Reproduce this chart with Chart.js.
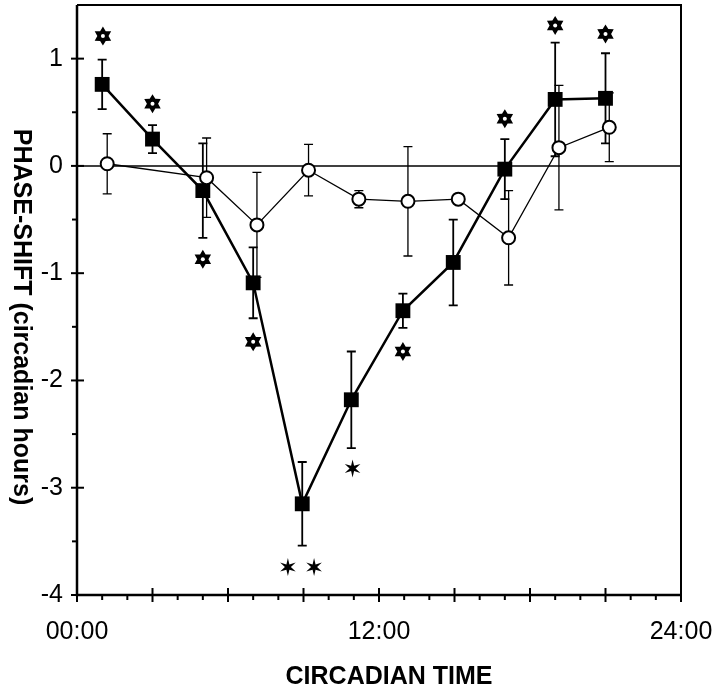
<!DOCTYPE html>
<html>
<head>
<meta charset="utf-8">
<script src="https://cdn.jsdelivr.net/npm/chart.js@4.4.1/dist/chart.umd.min.js"></script>
<style>
  html, body { margin: 0; padding: 0; background: #fff; }
  #wrap { width: 720px; height: 692px; }
</style>
</head>
<body>
<div id="wrap"><canvas id="phaseChart" width="720" height="692"></canvas></div>
<script>
// Dados (CT em horas, deslocamento de fase em horas circadianas)
const squareX   = [1.0, 3.0, 5.0, 7.0, 8.95, 10.9, 12.95, 14.95, 17.0, 19.0, 21.0];
const squareY   = [0.76, 0.25, -0.23, -1.09, -3.15, -2.18, -1.35, -0.90, -0.03, 0.62, 0.63];
const squareErr = [0.23, 0.13, 0.44, 0.33, 0.39, 0.45, 0.16, 0.40, 0.28, 0.53, 0.42];

const circleX   = [1.2, 5.15, 7.15, 9.2, 11.2, 13.15, 15.15, 17.15, 19.15, 21.15];
const circleY   = [0.02, -0.11, -0.55, -0.04, -0.31, -0.33, -0.31, -0.67, 0.17, 0.36];
const circleErr = [0.28, 0.37, 0.49, 0.24, 0.08, 0.51, 0.03, 0.44, 0.58, 0.32];

// marcadores de significância
const openStarX   = [1.03, 3.0, 5.0, 7.0, 12.95, 17.0, 19.0, 21.0];
const openStarY   = [1.21, 0.58, -0.87, -1.64, -1.73, 0.44, 1.31, 1.23];
const filledStarX = [8.38, 9.42, 10.95];
const filledStarY = [-3.74, -3.74, -2.82];

// rótulos dos eixos
const xTickLabels = { 0: '00:00', 12: '12:00', 24: '24:00' };
const yTitle = 'PHASE-SHIFT (circadian hours)';
const xTitle = 'CIRCADIAN TIME';

const FONT = "'Liberation Sans', Arial, sans-serif";

// Barras de erro e linha do zero (desenhadas sob os marcadores)
const errorBarsPlugin = {
    id: 'errorBars',
    beforeDatasetsDraw(chart) {
        const { ctx, scales: { x, y }, chartArea } = chart;
        ctx.save();
        ctx.strokeStyle = '#000';

        // linha do zero
        ctx.lineWidth = 1.5;
        const y0 = y.getPixelForValue(0);
        ctx.beginPath();
        ctx.moveTo(chartArea.left, y0);
        ctx.lineTo(chartArea.right, y0);
        ctx.stroke();

        const drawBars = (xs, ys, errs, width) => {
            ctx.lineWidth = width;
            xs.forEach((xv, i) => {
                const px = x.getPixelForValue(xv);
                const top = y.getPixelForValue(ys[i] + errs[i]);
                const bot = y.getPixelForValue(ys[i] - errs[i]);
                ctx.beginPath();
                ctx.moveTo(px, top);
                ctx.lineTo(px, bot);
                ctx.moveTo(px - 4.5, top);
                ctx.lineTo(px + 4.5, top);
                ctx.moveTo(px - 4.5, bot);
                ctx.lineTo(px + 4.5, bot);
                ctx.stroke();
            });
        };
        drawBars(squareX, squareY, squareErr, 1.8);
        drawBars(circleX, circleY, circleErr, 1.3);
        ctx.restore();
    }
};

// Estrelas de significância
function drawStar(ctx, cx, cy, outer, inner) {
    ctx.beginPath();
    for (let k = 0; k < 12; k++) {
        const r = k % 2 === 0 ? outer : inner;
        const a = -Math.PI / 2 + k * Math.PI / 6;
        const px = cx + r * Math.cos(a);
        const py = cy + r * Math.sin(a);
        if (k === 0) ctx.moveTo(px, py); else ctx.lineTo(px, py);
    }
    ctx.closePath();
    ctx.fill();
}

const starsPlugin = {
    id: 'stars',
    afterDatasetsDraw(chart) {
        const { ctx, scales: { x, y } } = chart;
        ctx.save();
        openStarX.forEach((xv, i) => {
            const px = x.getPixelForValue(xv);
            const py = y.getPixelForValue(openStarY[i]);
            ctx.fillStyle = '#000';
            drawStar(ctx, px, py, 9.5, 5.6);
            ctx.fillStyle = '#fff';
            ctx.beginPath();
            ctx.arc(px, py, 2, 0, Math.PI * 2);
            ctx.fill();
        });
        ctx.fillStyle = '#000';
        filledStarX.forEach((xv, i) => {
            const px = x.getPixelForValue(xv);
            const py = y.getPixelForValue(filledStarY[i]);
            drawStar(ctx, px, py, 9, 3);
        });
        ctx.restore();
    }
};

// Moldura, marcas dos eixos e títulos
const framePlugin = {
    id: 'frame',
    afterDraw(chart) {
        const { ctx, scales: { x, y }, chartArea: a } = chart;
        ctx.save();
        ctx.strokeStyle = '#000';

        ctx.lineWidth = 2;
        ctx.beginPath();
        ctx.moveTo(a.left, a.top);
        ctx.lineTo(a.right, a.top);
        ctx.lineTo(a.right, a.bottom);
        ctx.stroke();

        ctx.lineWidth = 2.5;
        ctx.beginPath();
        ctx.moveTo(a.left, a.top);
        ctx.lineTo(a.left, a.bottom);
        ctx.lineTo(a.right, a.bottom);
        ctx.stroke();

        // marcas do eixo y
        ctx.lineWidth = 2;
        y.ticks.forEach(t => {
            const py = y.getPixelForValue(t.value);
            const major = Number.isInteger(t.value);
            if (t.value > 1.01) return;
            ctx.beginPath();
            ctx.moveTo(a.left - (major ? 6 : 5), py);
            ctx.lineTo(a.left + (major ? 7 : 0), py);
            ctx.stroke();
        });
        // marcas do eixo x
        x.ticks.forEach(t => {
            const px = x.getPixelForValue(t.value);
            const major = t.value % 3 === 0;
            ctx.beginPath();
            ctx.moveTo(px, a.bottom - (major ? 7 : 0));
            ctx.lineTo(px, a.bottom + (major ? 7 : 5));
            ctx.stroke();
        });

        // títulos
        ctx.fillStyle = '#000';
        ctx.font = 'bold 25px ' + FONT;
        ctx.textAlign = 'center';
        ctx.textBaseline = 'middle';
        ctx.fillText(xTitle, 389, 677);
        ctx.translate(21, 317);
        ctx.rotate(Math.PI / 2);
        ctx.fillText(yTitle, 0, 0);
        ctx.restore();
    }
};

const ctx = document.getElementById('phaseChart');
const chart = new Chart(ctx, {
    type: 'scatter',
    data: {
        datasets: [
            {
                label: 'circles',
                data: circleX.map((v, i) => ({ x: v, y: circleY[i] })),
                showLine: true,
                borderColor: '#000',
                borderWidth: 1.3,
                pointStyle: 'circle',
                pointRadius: 6.5,
                pointBorderWidth: 2,
                pointBackgroundColor: '#fff',
                pointBorderColor: '#000',
                order: 0
            },
            {
                label: 'squares',
                data: squareX.map((v, i) => ({ x: v, y: squareY[i] })),
                showLine: true,
                borderColor: '#000',
                borderWidth: 2.5,
                pointStyle: 'rect',
                pointRadius: 10.5,
                pointBorderWidth: 0,
                pointBackgroundColor: '#000',
                pointBorderColor: '#000',
                order: 1
            }
        ]
    },
    options: {
        responsive: false,
        animation: false,
        devicePixelRatio: 1,
        layout: { autoPadding: false, padding: { top: 5, right: 39, left: 0, bottom: 0 } },
        plugins: {
            legend: { display: false },
            tooltip: { enabled: false }
        },
        scales: {
            x: {
                type: 'linear',
                min: 0,
                max: 24,
                grid: { display: false, drawTicks: false },
                border: { display: false },
                afterFit(scale) {
                    scale.height = 97;
                    scale.paddingLeft = 0;
                    scale.paddingRight = 0;
                },
                ticks: {
                    stepSize: 1,
                    autoSkip: false,
                    maxRotation: 0,
                    padding: 22,
                    color: '#000',
                    font: { family: FONT, size: 25 },
                    callback: v => xTickLabels[v] || ''
                }
            },
            y: {
                min: -4,
                max: 1.5,
                grid: { display: false, drawTicks: false },
                border: { display: false },
                afterFit(scale) {
                    scale.width = 77;
                    scale.paddingTop = 0;
                    scale.paddingBottom = 0;
                },
                ticks: {
                    stepSize: 0.5,
                    padding: 14,
                    color: '#000',
                    font: { family: FONT, size: 25 },
                    callback: v => Number.isInteger(v) && v <= 1 ? String(v) : ''
                }
            }
        }
    },
    plugins: [errorBarsPlugin, starsPlugin, framePlugin]
});
</script>
</body>
</html>
